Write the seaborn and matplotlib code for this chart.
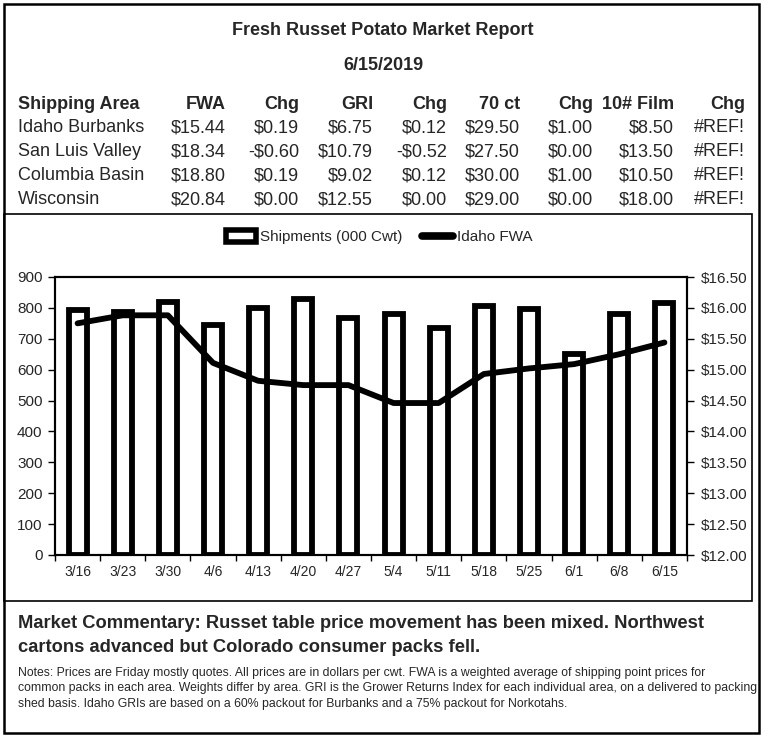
import numpy as np
import pandas as pd
import matplotlib
matplotlib.use("Agg")
import matplotlib.pyplot as plt
import seaborn as sns
from matplotlib.patches import Rectangle, Patch
from matplotlib.lines import Line2D
from matplotlib.ticker import FuncFormatter, MultipleLocator, FixedLocator

# ---------------- data ----------------
weeks = ['3/16', '3/23', '3/30', '4/6', '4/13', '4/20', '4/27',
         '5/4', '5/11', '5/18', '5/25', '6/1', '6/8', '6/15']
shipments = [793, 788, 820, 745, 800, 830, 768, 781, 736, 807, 797, 650, 779, 815]
idaho_fwa = [15.75, 15.88, 15.88, 15.11, 14.82, 14.75, 14.75,
             14.46, 14.46, 14.93, 15.02, 15.09, 15.25, 15.44]

title = "Fresh Russet Potato Market Report"
report_date = "6/15/2019"
col_headers = ['Shipping Area', 'FWA', 'Chg', 'GRI', 'Chg', '70 ct', 'Chg', '10# Film', 'Chg']
areas = ['Idaho Burbanks', 'San Luis Valley', 'Columbia Basin', 'Wisconsin']
fwa = ['$15.44', '$18.34', '$18.80', '$20.84']
fwa_chg = ['$0.19', '-$0.60', '$0.19', '$0.00']
gri = ['$6.75', '$10.79', '$9.02', '$12.55']
gri_chg = ['$0.12', '-$0.52', '$0.12', '$0.00']
ct70 = ['$29.50', '$27.50', '$30.00', '$29.00']
ct70_chg = ['$1.00', '$0.00', '$1.00', '$0.00']
film10 = ['$8.50', '$13.50', '$10.50', '$18.00']
film10_chg = ['#REF!', '#REF!', '#REF!', '#REF!']

commentary = ["Market Commentary: Russet table price movement has been mixed. Northwest",
              "cartons advanced but Colorado consumer packs fell."]
notes = ["Notes: Prices are Friday mostly quotes. All prices are in dollars per cwt. FWA is a weighted average of shipping point prices for",
         "common packs in each area. Weights differ by area. GRI is the Grower Returns Index for each individual area, on a delivered to packing",
         "shed basis. Idaho GRIs are based on a 60% packout for Burbanks and a 75% packout for Norkotahs."]

legend_labels = ['Shipments (000 Cwt)', 'Idaho FWA']

# ---------------- style ----------------
sns.set_style("white")
plt.rcParams['font.family'] = ['Liberation Sans', 'DejaVu Sans']

W, H = 765, 735
fig = plt.figure(figsize=(W / 100, H / 100), dpi=100)


def fx(x):
    return x / W


def fy(y):
    return 1 - y / H


def ftext(x, y, s, **kw):
    fig.text(fx(x), fy(y), s, va='baseline', **kw)


# ---------------- frames ----------------
fig.add_artist(Rectangle((fx(4), fy(733)), fx(759) - fx(4), fy(4) - fy(733),
                         fill=False, edgecolor='black', linewidth=1.8,
                         transform=fig.transFigure))
fig.add_artist(Rectangle((fx(4), fy(601)), fx(752) - fx(4), fy(214) - fy(601),
                         fill=False, edgecolor='black', linewidth=1.2,
                         transform=fig.transFigure))

# ---------------- header table ----------------
ftext(383, 35, title, ha='center', fontsize=13, fontweight='bold')
ftext(383, 70.5, report_date, ha='center', fontsize=13, fontweight='bold')

col_x = [18, 226, 299, 373, 447, 520, 593, 674, 745]
header_base = 109
row_base = [132.5, 156.5, 180, 204]
for i, h in enumerate(col_headers):
    ftext(col_x[i], header_base, h, ha='left' if i == 0 else 'right',
          fontsize=13, fontweight='bold')
columns = [areas, fwa, fwa_chg, gri, gri_chg, ct70, ct70_chg, film10, film10_chg]
for ci, col in enumerate(columns):
    for ri, val in enumerate(col):
        ftext(col_x[ci], row_base[ri], val, ha='left' if ci == 0 else 'right',
              fontsize=13)

# ---------------- chart ----------------
df = pd.DataFrame({'week': weeks, 'shipments': shipments, 'fwa': idaho_fwa})
df['pos'] = np.arange(len(df))

ax = fig.add_axes([fx(55), fy(555), fx(687) - fx(55), fy(277) - fy(555)])
sns.barplot(data=df, x='week', y='shipments', ax=ax, color='white',
            edgecolor='black', linewidth=4.2, width=0.40, saturation=1)
ax.set_xlim(-0.5, len(weeks) - 0.5)
ax.set_ylim(0, 900)
ax.yaxis.set_major_locator(MultipleLocator(100))
ax.set_xlabel('')
ax.set_ylabel('')

ax2 = ax.twinx()
sns.lineplot(data=df, x='pos', y='fwa', ax=ax2, color='black', linewidth=4.2,
             sort=False)
ax2.set_ylim(12, 16.5)
ax2.yaxis.set_major_locator(MultipleLocator(0.5))
ax2.yaxis.set_major_formatter(FuncFormatter(lambda v, p: f'${v:.2f}'))
ax2.set_xlabel('')
ax2.set_ylabel('')
ax2.set_xlim(-0.5, len(weeks) - 0.5)

ax.set_xticks(np.arange(len(weeks)))
ax.set_xticklabels(weeks)
ax.xaxis.set_minor_locator(FixedLocator(np.arange(-0.5, len(weeks), 1.0)))
ax.tick_params(axis='x', which='major', length=0, pad=7, labelsize=10)
ax.tick_params(axis='x', which='minor', length=4, width=1, direction='out',
               bottom=True, color='black')
ax.tick_params(axis='y', which='major', length=5, width=1, direction='out',
               left=True, pad=4, labelsize=11, color='black')
ax2.tick_params(axis='y', which='major', length=5, width=1, direction='out',
                right=True, pad=5, labelsize=11, color='black')

for a in (ax, ax2):
    for sp in a.spines.values():
        sp.set_visible(True)
        sp.set_color('black')
        sp.set_linewidth(1.5)

leg_handles = [Patch(facecolor='white', edgecolor='black', linewidth=4.0),
               Line2D([], [], color='black', linewidth=5.5)]
fig.legend(leg_handles, legend_labels, loc='center', ncol=2,
           bbox_to_anchor=(fx(379), fy(237)), frameon=False, fontsize=11,
           handlelength=2.0, handleheight=0.8, handletextpad=0.25,
           columnspacing=1.3)

# ---------------- commentary ----------------
ftext(18, 628.5, commentary[0], ha='left', fontsize=13.2, fontweight='bold')
ftext(18, 651.5, commentary[1], ha='left', fontsize=13.2, fontweight='bold')
for i, line in enumerate(notes):
    ftext(18, 676 + 15.5 * i, line, ha='left', fontsize=8.8)

fig.savefig('out.png', dpi=100)
